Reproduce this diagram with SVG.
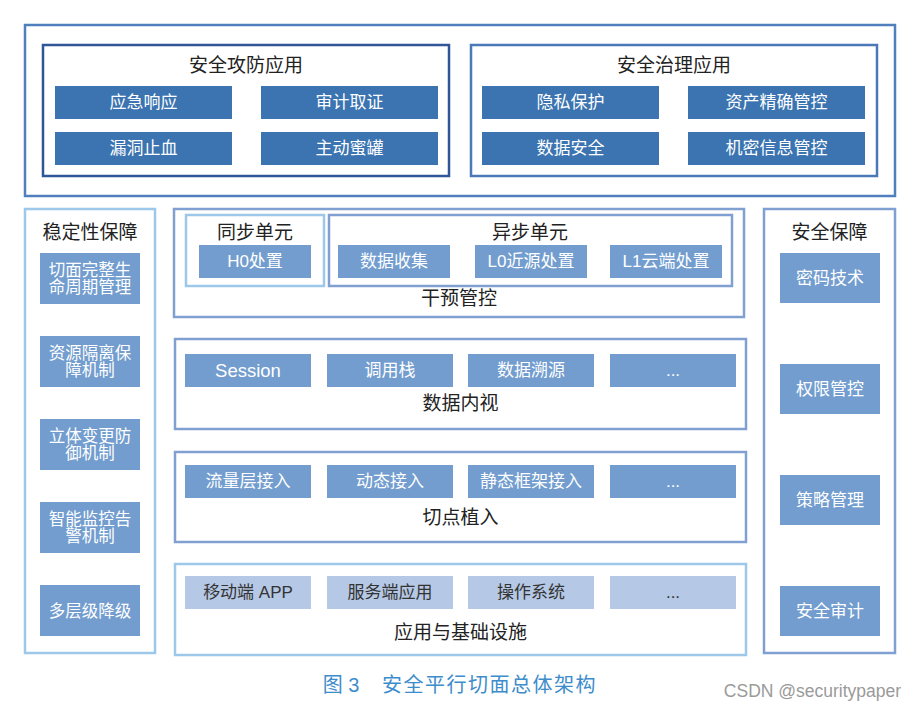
<svg xmlns="http://www.w3.org/2000/svg" width="920" height="710" viewBox="0 0 920 710">
<style>
text{font-family:"Liberation Sans","Noto Sans CJK SC",sans-serif;text-anchor:middle;dominant-baseline:central}
.t{font-size:19px;fill:#222}
.bd{fill:#3b74b0}
.bm{fill:#729dce}
.bl{fill:#b5c8e5}
.w{font-size:17px;fill:#fff}
.ws{font-size:16.5px;fill:#fff}
.k{font-size:17px;fill:#333}
.box{fill:#fff;stroke-width:2.5}
</style>
<rect width="920" height="710" fill="#fff"/>
<g id="top">
<rect class="box" x="25" y="25" width="870" height="171" stroke="#4f7fbc"/>
</g>
<g id="attack">
<rect class="box" x="43" y="45" width="406" height="131" stroke="#2f5697"/>
<text class="t" x="246" y="65">安全攻防应用</text>
<rect class="bd" x="55" y="86" width="177" height="33"/><text class="w" x="143.5" y="102.5">应急响应</text>
<rect class="bd" x="261" y="86" width="177" height="33"/><text class="w" x="349.5" y="102.5">审计取证</text>
<rect class="bd" x="55" y="132" width="177" height="33"/><text class="w" x="143.5" y="148.5">漏洞止血</text>
<rect class="bd" x="261" y="132" width="177" height="33"/><text class="w" x="349.5" y="148.5">主动蜜罐</text>
</g>
<g id="govern">
<rect class="box" x="471" y="45" width="406" height="131" stroke="#4a78b8"/>
<text class="t" x="674" y="65">安全治理应用</text>
<rect class="bd" x="482" y="86" width="177" height="33"/><text class="w" x="570.5" y="102.5">隐私保护</text>
<rect class="bd" x="688" y="86" width="177" height="33"/><text class="w" x="776.5" y="102.5">资产精确管控</text>
<rect class="bd" x="482" y="132" width="177" height="33"/><text class="w" x="570.5" y="148.5">数据安全</text>
<rect class="bd" x="688" y="132" width="177" height="33"/><text class="w" x="776.5" y="148.5">机密信息管控</text>
</g>
<g id="stability">
<rect class="box" x="25" y="209" width="130" height="444" stroke="#9ec8ea"/>
<text class="t" x="90" y="232">稳定性保障</text>
<rect class="bm" x="40" y="253" width="100" height="51"/><text class="ws" x="90" y="270">切面完整生</text><text class="ws" x="90" y="287">命周期管理</text>
<rect class="bm" x="40" y="336" width="100" height="51"/><text class="ws" x="90" y="353">资源隔离保</text><text class="ws" x="90" y="370">障机制</text>
<rect class="bm" x="40" y="419" width="100" height="51"/><text class="ws" x="90" y="436">立体变更防</text><text class="ws" x="90" y="453">御机制</text>
<rect class="bm" x="40" y="502" width="100" height="51"/><text class="ws" x="90" y="519">智能监控告</text><text class="ws" x="90" y="536">警机制</text>
<rect class="bm" x="40" y="585" width="100" height="51"/><text class="ws" x="90" y="610.5">多层级降级</text>
</g>
<g id="security">
<rect class="box" x="764" y="209" width="131" height="444" stroke="#7fa0d0"/>
<text class="t" x="829.5" y="232">安全保障</text>
<rect class="bm" x="780" y="253" width="100" height="50"/><text class="w" x="830" y="278">密码技术</text>
<rect class="bm" x="780" y="364" width="100" height="50"/><text class="w" x="830" y="389">权限管控</text>
<rect class="bm" x="780" y="475" width="100" height="50"/><text class="w" x="830" y="500">策略管理</text>
<rect class="bm" x="780" y="586" width="100" height="50"/><text class="w" x="830" y="611">安全审计</text>
</g>
<g id="intervene">
<rect class="box" x="174" y="209" width="570" height="108" stroke="#7fa0d0"/>
<rect class="box" x="186" y="215" width="138" height="71" stroke="#9ec8ea"/>
<text class="t" x="255" y="232">同步单元</text>
<rect class="bm" x="199" y="245" width="112" height="33"/><text class="w" x="255" y="261.5">H0处置</text>
<rect class="box" x="329" y="215" width="403" height="71" stroke="#7fa0d0"/>
<text class="t" x="530" y="232">异步单元</text>
<rect class="bm" x="338" y="245" width="112" height="33"/><text class="w" x="394" y="261.5">数据收集</text>
<rect class="bm" x="475" y="245" width="112" height="33"/><text class="w" x="531" y="261.5">L0近源处置</text>
<rect class="bm" x="610" y="245" width="112" height="33"/><text class="w" x="666" y="261.5">L1云端处置</text>
<text class="t" x="459" y="298">干预管控</text>
</g>
<g id="introspect">
<rect class="box" x="175" y="339" width="571" height="90" stroke="#7fa0d0"/>
<rect class="bm" x="185" y="354" width="126" height="33"/><text class="w" x="248" y="370.5" style="font-size:18.5px">Session</text>
<rect class="bm" x="327" y="354" width="126" height="33"/><text class="w" x="390" y="370.5">调用栈</text>
<rect class="bm" x="468" y="354" width="126" height="33"/><text class="w" x="531" y="370.5">数据溯源</text>
<rect class="bm" x="610" y="354" width="126" height="33"/><text class="w" x="673" y="370.5">...</text>
<text class="t" x="460.5" y="403">数据内视</text>
</g>
<g id="implant">
<rect class="box" x="175" y="452" width="571" height="90" stroke="#7fa0d0"/>
<rect class="bm" x="185" y="465" width="126" height="33"/><text class="w" x="248" y="481.5">流量层接入</text>
<rect class="bm" x="327" y="465" width="126" height="33"/><text class="w" x="390" y="481.5">动态接入</text>
<rect class="bm" x="468" y="465" width="126" height="33"/><text class="w" x="531" y="481.5">静态框架接入</text>
<rect class="bm" x="610" y="465" width="126" height="33"/><text class="w" x="673" y="481.5">...</text>
<text class="t" x="460.5" y="517">切点植入</text>
</g>
<g id="infra">
<rect class="box" x="175" y="564" width="571" height="91" stroke="#9ec8ea"/>
<rect class="bl" x="185" y="576" width="126" height="33"/><text class="k" x="248" y="592.5">移动端 APP</text>
<rect class="bl" x="327" y="576" width="126" height="33"/><text class="k" x="390" y="592.5">服务端应用</text>
<rect class="bl" x="468" y="576" width="126" height="33"/><text class="k" x="531" y="592.5">操作系统</text>
<rect class="bl" x="610" y="576" width="126" height="33"/><text class="k" x="673" y="592.5">...</text>
<text class="t" x="460.5" y="632">应用与基础设施</text>
</g>
<g id="connectors"></g>
<g id="caption">
<text x="341" y="685" style="font-size:20px;fill:#3d8ccb">图 3</text>
<text x="489.5" y="685" style="font-size:20px;fill:#3d8ccb;letter-spacing:1.5px">安全平行切面总体架构</text>
<text x="812.5" y="691" style="font-size:17.5px;fill:#9a9a9a">CSDN @securitypaper</text>
</g>
</svg>
